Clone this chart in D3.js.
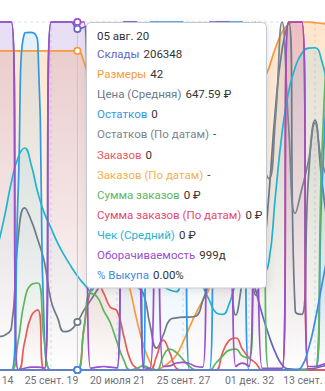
<!DOCTYPE html>
<html>
<head>
<meta charset="utf-8">
<script src="https://cdn.jsdelivr.net/npm/d3@7"></script>
<style>
  html, body { margin: 0; padding: 0; background: #fff; }
  svg { display: block; overflow: hidden; }
</style>
</head>
<body>
<svg id="chart" width="325" height="391"></svg>
<script>
// ---------- data (relative level of each series, 0..100 of its own axis) ----------
const tickIndex  = [0, 10, 20, 30, 40, 50];
const tickLabels = ["14", "25 сент. 19", "20 июля 21", "25 сент. 27", "01 дек. 32", "13 сент."];
const hoverIndex = 14;
const tooltipDate = "05 авг. 20";

const seriesNames = ["Склады", "Размеры", "Цена (Средняя)", "Остатков", "Остатков (По датам)",
  "Заказов", "Заказов (По датам)", "Сумма заказов", "Сумма заказов (По датам)",
  "Чек (Средний)", "Оборачиваемость", "% Выкупа"];
const tooltipValues = ["206348", "42", "647.59 ₽", "0", "-", "0", "-", "0 ₽", "0 ₽", "0 ₽", "999д", "0.00%"];

const sklady = [100,100,100,100,100, 0,0,0,0,0, 100,100,100,100,98, 98.5,99,97,95,90,
  88,85,80,75,70, 72,75,78,80,82, 80,75,70,65,60, 55,50,45,40,35, 30,23,16,10,5, 1.5,0.3,0.2,0.2,0.3, 0.5,1,1.5];
const razmery = [91.7,91.7,91.7,91.7,91.7, 91.7,91.7,91.7,91.7,91.7, 91.7,91.7,91.7,91.7,91.7, 88.5,82,75,63,52,
  40,30,23,14.4,7.2, 2.3,0,0.9,2.3,4.3, 8,12.4,16.4,20,23.6, 31.6,40,49,56,63, 70,76,82,86.8,92.5, 97,99.4,100,100,100, 99.8,99.6,99.5];
const cena = [7.2,8.6,9.5,10,12, 37.4,46.6,43,37.4,31, 20,15,11,11.5,13.8, 17.2,20,23,26,30,
  35,30,26,24,22, 13,6.3,10,14.4,15, 15.2,15.2,15.5,20,26, 40,45,35,15.8,26, 40,21.5,30,50,75, 92,100,17,16,55, 71.8,55,40];
const ostatki = [0,0,0,0,0, 50,96.8,97,94,10, 0,0,0,0,0, 0,0,0,0,0,
  0,100,100,100,0, 100,100,100,100,100, 100,0,0,0,0, 100,100,100,100,100, 0,0,0,0,0, 0,0,0,0,0, 0,50,92];
const ostatkiDates = [null,null,null,null,null, null,null,null,null,null, null,null,null,null,null, null,null,null,null,null,
  null,null,null,null,null, null,null,null,null,null, null,null,null,null,null, null,null,null,null,null,
  null,null,60,55,72, 100,70,45,52,60, 71,60,55];
const zakazy = [0,0,0,0,0, 0,8,15.5,17.3,0, 0,0,0,0,0, 12,23,25,22,18,
  17,10,3,0.5,0, 0,4,8.6,5,0.5, 0,0,0,0,0, 0,5,8.5,9.2,6, 3.5,2,0,0,0, 0,0,0,0,0, 0,0,0];
const zakazyDates = [null,null,null,null,null, null,null,null,null,null, null,null,null,null,null, null,null,null,null,null,
  null,null,null,null,null, null,null,null,null,null, null,null,null,null,null, null,null,null,null,null,
  null,null,null,null,null, null,null,null,null,null, null,null,null];
const summa = [0,0,0,0,0, 8,20,24.5,25,8, 0,0,0,0,0, 12,22,21,17,13.5,
  8,3,0,0.5,1.2, 0.5,0,4,6,5, 3,1,0,0,0, 2,4,5.7,6,4, 3.5,50,60,0,0, 0,0,0,0,0, 0,60,100];
const summaDates = [0,0,0,0,0, 0,0,0,0,0, 0,0,0,0,0, 0,0,0,0,0,
  0,0,0,0,0, 0,0,0,0,0, 0,0,0,0,0, 0,0,0,0,0, 0,0,0,0,0, 0,100,100,100,0, 0,0,0];
const chek = [20,27,36,44.5,54, 61,63.8,59,51,45, 40.8,36.5,33,29.9,27, 24.7,22.7,30,35,40,
  45,40,35,30,28, 26,25,24,23,22.5, 30,35,28,24,20, 16.5,16,19,24.5,26, 27,26,27,31,50, 68,80,87,91,92.5, 92.6,89,80];
const oborot = [100,100,100,100,100, 0,0.5,0.8,0.8,0.5, 100,100,100,100,100, 100,0.5,0.8,1,0.8,
  0.6,100,100,100,0.8, 0.5,100,1,1.2,2, 2.2,1.8,1,0.8,100, 100,100,100,1,2, 1,100,0.5,0.5,0.5, 0.5,100,100,100,1, 1,1.5,2];
const vykup = [0,0,0,0,0, 0,0,0,0,0, 0,0,0,0,0, 0,0,0,0,0,
  0,0,0,0,0, 0,0,0,0,0, 0,0,0,0,0, 0,0,0,0,0, 0,0,0,0,0, 0,0,0,1,6, 14,24,34];

const seriesValues = [sklady, razmery, cena, ostatki, ostatkiDates, zakazy, zakazyDates,
  summa, summaDates, chek, oborot, vykup];

// ---------- styles ----------
const seriesColors = ["#6366c4", "#f99a3c", "#6c7a89", "#3198e6", "#7b848e",
  "#e65a5a", "#f4b04a", "#5db55f", "#e6486f", "#1fb4d2", "#9b4fca", "#3f8ae6"];
const areaOpacity = [0.08, 0.26, 0.1, 0.14, 0.1, 0.12, 0.12, 0.12, 0.14, 0.12, 0.13, 0.12];
const hoverMarkSeries = [0, 1, 2, 3, 5, 7, 8, 10, 11];

// ---------- layout ----------
const W = 325, H = 391;
const plotTop = 22, plotBottom = 370;
const N = sklady.length;

const svg = d3.select("#chart");
const x = d3.scalePoint().domain(d3.range(N)).range([-15, -15 + 6.6 * (N - 1)]);
const y = d3.scaleLinear().domain([0, 100]).range([plotBottom, plotTop]);

// ECharts-like smoothing (smooth = 0.5 with constraint)
function smoothInto(path, pts, smooth) {
  let cpx0, cpy0, prevX, prevY;
  const n = pts.length;
  for (let k = 0; k < n; k++) {
    const px = pts[k][0], py = pts[k][1];
    if (k === 0) {
      path.moveTo(px, py);
      cpx0 = px; cpy0 = py;
    } else {
      let cpx1, cpy1, ncx = px, ncy = py;
      if (k === n - 1) { cpx1 = px; cpy1 = py; }
      else {
        const nx = pts[k + 1][0], ny = pts[k + 1][1];
        let vx = nx - prevX, vy = ny - prevY;
        const lenPrev = Math.hypot(px - prevX, py - prevY);
        const lenNext = Math.hypot(nx - px, ny - py);
        const ratio = lenNext / (lenNext + lenPrev);
        ncx = px + vx * smooth * ratio;
        ncy = py + vy * smooth * ratio;
        ncx = Math.min(ncx, Math.max(nx, px)); ncy = Math.min(ncy, Math.max(ny, py));
        ncx = Math.max(ncx, Math.min(nx, px)); ncy = Math.max(ncy, Math.min(ny, py));
        vx = ncx - px; vy = ncy - py;
        cpx1 = px - vx * lenPrev / lenNext;
        cpy1 = py - vy * lenPrev / lenNext;
        cpx1 = Math.min(cpx1, Math.max(prevX, px)); cpy1 = Math.min(cpy1, Math.max(prevY, py));
        cpx1 = Math.max(cpx1, Math.min(prevX, px)); cpy1 = Math.max(cpy1, Math.min(prevY, py));
        vx = px - cpx1; vy = py - cpy1;
        ncx = px + vx * lenNext / lenPrev;
        ncy = py + vy * lenNext / lenPrev;
      }
      path.bezierCurveTo(cpx0, cpy0, cpx1, cpy1, px, py);
      cpx0 = ncx; cpy0 = ncy;
    }
    prevX = px; prevY = py;
  }
}
function segments(values) {
  const segs = []; let cur = [];
  values.forEach((v, i) => {
    if (v === null || v === undefined) { if (cur.length) segs.push(cur); cur = []; }
    else cur.push([x(i), y(v)]);
  });
  if (cur.length) segs.push(cur);
  return segs;
}
function linePath(values) {
  const p = d3.path();
  segments(values).forEach(s => smoothInto(p, s, 0.5));
  return p.toString();
}
function areaPath(values) {
  const p = d3.path();
  segments(values).forEach(s => {
    smoothInto(p, s, 0.5);
    p.lineTo(s[s.length - 1][0], y(0));
    p.lineTo(s[0][0], y(0));
    p.closePath();
  });
  return p.toString();
}

const defs = svg.append("defs");
defs.append("clipPath").attr("id", "plotClip")
  .append("rect").attr("x", 0).attr("y", 0).attr("width", W).attr("height", plotBottom + 3);
seriesColors.forEach((c, k) => {
  const g = defs.append("linearGradient").attr("id", "grad" + k)
    .attr("x1", 0).attr("y1", 0).attr("x2", 0).attr("y2", 1);
  g.append("stop").attr("offset", "0%").attr("stop-color", c).attr("stop-opacity", areaOpacity[k]);
  g.append("stop").attr("offset", "100%").attr("stop-color", c).attr("stop-opacity", 0.0);
});
const shadow = defs.append("filter").attr("id", "tipShadow")
  .attr("x", "-20%").attr("y", "-20%").attr("width", "140%").attr("height", "140%");
shadow.append("feDropShadow").attr("dx", 1).attr("dy", 2).attr("stdDeviation", 4)
  .attr("flood-color", "#000").attr("flood-opacity", 0.1);

// grid: dashed vertical split lines at ticks, dashed top line
const grid = svg.append("g");
grid.selectAll("line.v").data(tickIndex).enter().append("line")
  .attr("x1", d => x(d)).attr("x2", d => x(d))
  .attr("y1", plotTop).attr("y2", plotBottom)
  .attr("stroke", "#d9dde6").attr("stroke-width", 1).attr("stroke-dasharray", "3,3");
grid.append("line").attr("x1", 0).attr("x2", W).attr("y1", plotTop).attr("y2", plotTop)
  .attr("stroke", "#d9dde6").attr("stroke-width", 1).attr("stroke-dasharray", "3,3");

const plot = svg.append("g").attr("clip-path", "url(#plotClip)");
seriesValues.forEach((vals, k) => {
  plot.append("path").attr("d", areaPath(vals)).attr("fill", "url(#grad" + k + ")").attr("stroke", "none");
});
seriesValues.forEach((vals, k) => {
  plot.append("path").attr("d", linePath(vals)).attr("fill", "none")
    .attr("stroke", seriesColors[k]).attr("stroke-width", 1.7)
    .attr("stroke-linejoin", "round");
});

// axis pointer
svg.append("line").attr("x1", x(hoverIndex)).attr("x2", x(hoverIndex))
  .attr("y1", plotTop).attr("y2", plotBottom)
  .attr("stroke", "#c2c6cf").attr("stroke-width", 1);

// hover symbols
hoverMarkSeries.forEach(k => {
  const v = seriesValues[k][hoverIndex];
  if (v === null) return;
  svg.append("circle").attr("cx", x(hoverIndex)).attr("cy", y(v)).attr("r", 3.2)
    .attr("fill", "#fff").attr("stroke", seriesColors[k]).attr("stroke-width", 1.7);
});

// x axis
const xAxis = d3.axisBottom(x).tickValues(tickIndex)
  .tickFormat(d => tickLabels[tickIndex.indexOf(d)]).tickSize(0).tickPadding(7);
const ax = svg.append("g").attr("transform", `translate(0,${plotBottom})`).call(xAxis);
ax.select(".domain").remove();
ax.selectAll("text").attr("fill", "#6e7079").style("font-family", "Roboto, sans-serif").style("font-size", "10.5px");
// edge labels: only their visible part is shown in the reference, kept inside the frame
ax.selectAll(".tick").filter(d => d === tickIndex[0]).select("text")
  .attr("text-anchor", "end").attr("x", 28);
ax.selectAll(".tick").filter(d => d === tickIndex[tickIndex.length - 1]).select("text")
  .attr("text-anchor", "end").attr("x", 7);

// tooltip
const tip = svg.append("g");
tip.append("rect").attr("x", 86.5).attr("y", 22.5).attr("width", 180).attr("height", 265.5)
  .attr("rx", 4).attr("fill", "#fff").attr("stroke", "#c3c7cf").attr("stroke-width", 1)
  .attr("filter", "url(#tipShadow)");
const tipFont = "Roboto, sans-serif";
tip.append("text").attr("x", 97).attr("y", 40).text(tooltipDate)
  .attr("fill", "#333").style("font-family", tipFont).style("font-size", "11.5px");
seriesNames.forEach((name, k) => {
  const t = tip.append("text").attr("x", 97).attr("y", 58 + k * 20.1)
    .style("font-family", tipFont).style("font-size", "11.5px");
  t.append("tspan").attr("fill", seriesColors[k]).text(name);
  t.append("tspan").attr("dx", 4).attr("fill", "#333").text(tooltipValues[k]);
});
</script>
</body>
</html>
